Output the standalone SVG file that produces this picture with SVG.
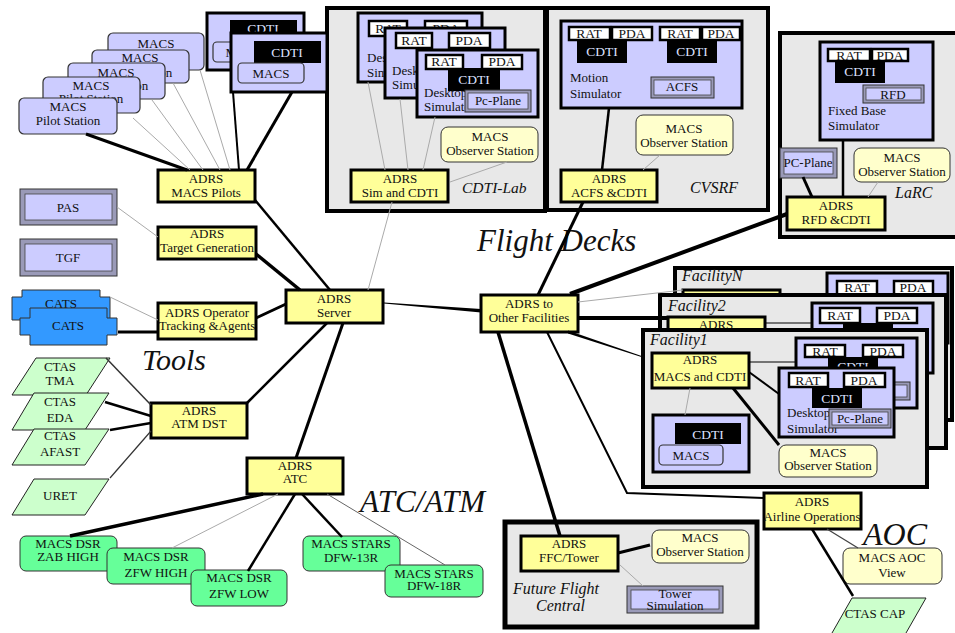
<svg xmlns="http://www.w3.org/2000/svg" width="955" height="633" viewBox="0 0 955 633">
<style>
text{font-family:"Liberation Serif","Times New Roman",serif;font-size:13px;fill:#111;text-anchor:middle}
.l{text-anchor:start}
.s{font-size:13.5px}
.it{font-style:italic;text-anchor:start}
.big{font-style:italic;text-anchor:start;font-size:31px}
.ct{fill:#dde0ff;font-size:13.5px}
.adrs{fill:#ffff99;stroke:#000;stroke-width:3}
.obs{fill:#ffffcc;stroke:#333;stroke-width:1}
.lav{fill:#ccccff;stroke:#000;stroke-width:3}
.lt{fill:#ccccff;stroke:#333;stroke-width:1.2}
.cont{fill:#e8e8e8;stroke:#000;stroke-width:4}
.blk{fill:#000}
.wb{fill:#fff;stroke:#000;stroke-width:2.5}
.dsr{fill:#66ff99;stroke:#333;stroke-width:1}
.ctas{fill:#ccffcc;stroke:#222;stroke-width:1}
.cats{fill:#3399ff;stroke:#333;stroke-width:1}
.bo{fill:#9a9ab8;stroke:#333;stroke-width:1}
.bi{fill:#ccccff;stroke:#444;stroke-width:0.8}
.k{stroke:#000;fill:none}
.g{stroke:#aaa;stroke-width:1;fill:none}
</style>

<!-- containers -->
<g id="cdti-lab">
<rect class="cont" x="327" y="8" width="218" height="203"/>
<text class="it" x="462" y="193" style="font-size:15.5px">CDTI-Lab</text>
</g>
<g id="cvsrf">
<rect class="cont" x="547" y="8" width="221" height="202"/>
<text class="it" x="690" y="193" style="font-size:16px">CVSRF</text>
</g>
<g id="larc">
<rect class="cont" x="780" y="33" width="185" height="204"/>
<text class="it" x="895" y="198" style="font-size:16px">LaRC</text>
</g>
<g id="facilityN">
<rect class="cont" x="675" y="268" width="277" height="152"/>
<text class="it" x="682" y="281" style="font-size:16px">FacilityN</text>
<rect class="adrs" x="683" y="290" width="97" height="30"/>
<rect class="lav" x="827" y="273" width="121" height="70"/>
<rect class="wb" x="837" y="281" width="40" height="14"/><text class="s" x="857" y="292">RAT</text>
<rect class="wb" x="894" y="281" width="39" height="14"/><text class="s" x="913" y="292">PDA</text>
</g>
<g id="facility2">
<rect class="cont" x="660" y="295" width="286" height="153"/>
<text class="it" x="668" y="311" style="font-size:16px">Facility2</text>
<rect class="adrs" x="668" y="317" width="97" height="33"/><text x="716" y="329">ADRS</text>
<rect class="lav" x="812" y="303" width="121" height="70"/>
<rect class="wb" x="820" y="308" width="40" height="15"/><text class="s" x="840" y="320">RAT</text>
<rect class="wb" x="877" y="308" width="40" height="15"/><text class="s" x="897" y="320">PDA</text>
<rect class="blk" x="843" y="323" width="50" height="18"/><text class="ct" x="868" y="337">CDTI</text>
<line class="k" x1="765" y1="323" x2="812" y2="323" stroke-width="1.2"/>
</g>
<g id="facility1">
<rect class="cont" x="643" y="330" width="284" height="157"/>
<text class="it" x="650" y="345" style="font-size:16px">Facility1</text>
</g>
<g id="ffc">
<rect class="cont" x="505" y="522" width="252" height="105" style="stroke-width:5"/>
<text class="it" x="513" y="594" style="font-size:16px">Future Flight</text>
<text class="it" x="536" y="611" style="font-size:16px">Central</text>
</g>

<!-- big labels -->
<g id="labels">
<text class="big" x="477" y="251">Flight Decks</text>
<text class="big" x="142" y="370" style="font-size:30px">Tools</text>
<text class="big" x="360" y="512">ATC/ATM</text>
<text class="big" x="863" y="545" style="font-size:32px">AOC</text>
</g>

<!-- pilot stations -->
<g id="pilot1"><rect class="lt" x="108" y="33" width="96" height="37" rx="5"/><text x="156" y="48">MACS</text><text x="156" y="62">Pilot Station</text></g>
<g id="pilot2"><rect class="lt" x="92" y="50" width="97" height="33" rx="5"/><text x="140" y="62">MACS</text><text x="140" y="77">Pilot Station</text></g>
<g id="pilot3"><rect class="lt" x="68" y="63" width="97" height="36" rx="5"/><text x="116" y="77">MACS</text><text x="116" y="90">Pilot Station</text></g>
<g id="pilot4"><rect class="lt" x="43" y="77" width="97" height="36" rx="5"/><text x="91" y="90">MACS</text><text x="91" y="103">Pilot Station</text></g>
<g id="pilot5"><rect class="lt" x="19" y="98" width="98" height="36" rx="5"/><text x="68" y="111">MACS</text><text x="68" y="125">Pilot Station</text></g>

<g id="cdti-macs1">
<rect class="lav" x="207" y="13" width="97" height="57"/>
<rect class="blk" x="230" y="20" width="67" height="17"/><text class="ct" x="263" y="33">CDTI</text>
<rect class="lt" x="213" y="42" width="62" height="20" rx="4"/><text x="244" y="57">MACS</text>
</g>
<g id="cdti-macs2">
<rect class="lav" x="231" y="33" width="96" height="59"/>
<rect class="blk" x="254" y="41" width="67" height="22"/><text class="ct" x="287" y="57">CDTI</text>
<rect class="lt" x="238" y="63" width="66" height="20" rx="4"/><text x="271" y="78">MACS</text>
</g>

<!-- CDTI-Lab content -->
<g id="desk1">
<rect class="lav" x="358" y="13" width="124" height="69"/>
<rect class="wb" x="369" y="21" width="38" height="15"/><text class="s" x="388" y="33">RAT</text>
<rect class="wb" x="425" y="21" width="42" height="15"/><text class="s" x="446" y="33">PDA</text>
<text class="l" x="367" y="62">Desktop</text><text class="l" x="367" y="77">Simulator</text>
</g>
<g id="desk2">
<rect class="lav" x="385" y="28" width="120" height="70"/>
<rect class="wb" x="396" y="33" width="36" height="15"/><text class="s" x="414" y="45">RAT</text>
<rect class="wb" x="449" y="33" width="41" height="15"/><text class="s" x="469" y="45">PDA</text>
<text class="l" x="392" y="75">Desktop</text><text class="l" x="392" y="89">Simulator</text>
</g>
<g id="desk3">
<rect class="lav" x="417" y="50" width="121" height="67"/>
<rect class="wb" x="426" y="55" width="37" height="14"/><text class="s" x="444" y="66">RAT</text>
<rect class="wb" x="482" y="55" width="40" height="14"/><text class="s" x="502" y="66">PDA</text>
<rect class="blk" x="448" y="68" width="52" height="23"/><text class="ct" x="474" y="84">CDTI</text>
<text class="l" x="424" y="97">Desktop</text><text class="l" x="424" y="111">Simulator</text>
<rect class="bo" x="465" y="90" width="66" height="22"/><rect class="bi" x="468" y="93" width="60" height="16"/><text x="498" y="105">Pc-Plane</text>
</g>
<g id="obs-lab"><rect class="obs" x="441" y="127" width="97" height="35" rx="7"/><text x="490" y="141">MACS</text><text x="490" y="155">Observer Station</text></g>
<g id="adrs-sim"><rect class="adrs" x="351" y="170" width="97" height="32"/><text x="400" y="183">ADRS</text><text x="400" y="197">Sim and CDTI</text></g>

<!-- CVSRF content -->
<g id="motion">
<rect class="lav" x="561" y="21" width="181" height="87"/>
<rect class="wb" x="569" y="27" width="41" height="13"/><text class="s" x="589" y="38">RAT</text>
<rect class="wb" x="612" y="27" width="40" height="13"/><text class="s" x="632" y="38">PDA</text>
<rect class="blk" x="577" y="40" width="50" height="23"/><text class="ct" x="602" y="56">CDTI</text>
<rect class="wb" x="660" y="27" width="40" height="13"/><text class="s" x="680" y="38">RAT</text>
<rect class="wb" x="702" y="27" width="38" height="13"/><text class="s" x="721" y="38">PDA</text>
<rect class="blk" x="667" y="40" width="50" height="23"/><text class="ct" x="692" y="56">CDTI</text>
<text class="l" x="570" y="82">Motion</text><text class="l" x="570" y="98">Simulator</text>
<rect class="bo" x="651" y="77" width="63" height="21"/><rect class="bi" x="654" y="80" width="57" height="15"/><text x="682" y="91">ACFS</text>
</g>
<g id="obs-cvsrf"><rect class="obs" x="636" y="115" width="97" height="40" rx="7"/><text x="684" y="133">MACS</text><text x="684" y="147">Observer Station</text></g>
<g id="adrs-acfs"><rect class="adrs" x="561" y="170" width="96" height="32"/><text x="609" y="183">ADRS</text><text x="609" y="197">ACFS &amp;CDTI</text></g>

<!-- LaRC content -->
<g id="fixedbase">
<rect class="lav" x="820" y="42" width="113" height="98"/>
<rect class="wb" x="828" y="49" width="42" height="12"/><text class="s" x="849" y="60">RAT</text>
<rect class="wb" x="872" y="49" width="36" height="12"/><text class="s" x="890" y="60">PDA</text>
<rect class="blk" x="835" y="60" width="50" height="23"/><text class="ct" x="860" y="76">CDTI</text>
<rect class="bo" x="863" y="85" width="61" height="18"/><rect class="bi" x="866" y="88" width="55" height="12"/><text x="893" y="99">RFD</text>
<text class="l" x="828" y="115">Fixed Base</text><text class="l" x="828" y="130">Simulator</text>
</g>
<g id="pcplane-larc"><rect class="bo" x="780" y="148" width="57" height="30"/><rect class="bi" x="784" y="152" width="49" height="22"/><text x="808" y="167">PC-Plane</text></g>
<g id="obs-larc"><rect class="obs" x="854" y="148" width="96" height="34" rx="7"/><text x="902" y="162">MACS</text><text x="902" y="176">Observer Station</text></g>
<g id="adrs-rfd"><rect class="adrs" x="787" y="197" width="98" height="33"/><text x="836" y="210">ADRS</text><text x="836" y="224">RFD &amp;CDTI</text></g>

<!-- tools -->
<g id="pas"><rect class="bo" x="20" y="189" width="97" height="36"/><rect class="bi" x="25" y="194" width="87" height="26"/><text x="68" y="212">PAS</text></g>
<g id="tgf"><rect class="bo" x="20" y="239" width="97" height="37"/><rect class="bi" x="25" y="244" width="87" height="27"/><text x="68" y="262">TGF</text></g>
<g id="cats1"><polygon class="cats" points="22,290 100,290 100,297 110,297 110,320 100,320 100,327 22,327 22,320 12,320 12,297 22,297"/><text x="61" y="308">CATS</text></g>
<g id="cats2"><polygon class="cats" points="30,308 107,308 107,318 117,318 117,335 107,335 107,345 30,345 30,335 20,335 20,318 30,318"/><text x="68" y="330">CATS</text></g>

<g id="adrs-pilots"><rect class="adrs" x="158" y="170" width="97" height="32"/><text x="206" y="183">ADRS</text><text x="206" y="197">MACS Pilots</text></g>
<g id="adrs-tg"><rect class="adrs" x="158" y="227" width="98" height="32"/><text x="207" y="238">ADRS</text><text x="207" y="252">Target Generation</text></g>
<g id="adrs-op"><rect class="adrs" x="158" y="303" width="98" height="36"/><text x="207" y="317">ADRS Operator</text><text x="207" y="330">Tracking &amp;Agents</text></g>
<g id="adrs-server"><rect class="adrs" x="286" y="290" width="97" height="33"/><text x="334" y="303">ADRS</text><text x="334" y="317">Server</text></g>
<g id="adrs-other"><rect class="adrs" x="481" y="295" width="97" height="37"/><text x="529" y="308">ADRS to</text><text x="529" y="322">Other Facilities</text></g>

<g id="ctas-tma"><polygon class="ctas" points="36,358 110,358 86,395 12,395"/><text x="60" y="371">CTAS</text><text x="60" y="385">TMA</text></g>
<g id="ctas-eda"><polygon class="ctas" points="34,393 109,393 85,430 12,430"/><text x="60" y="406">CTAS</text><text x="60" y="422">EDA</text></g>
<g id="ctas-afast"><polygon class="ctas" points="34,429 109,429 85,465 12,465"/><text x="60" y="440">CTAS</text><text x="60" y="456">AFAST</text></g>
<g id="uret"><polygon class="ctas" points="34,479 109,479 85,515 12,515"/><text x="60" y="500">URET</text></g>

<g id="adrs-atm"><rect class="adrs" x="151" y="403" width="96" height="35"/><text x="199" y="415">ADRS</text><text x="199" y="428">ATM DST</text></g>
<g id="adrs-atc"><rect class="adrs" x="247" y="458" width="96" height="36"/><text x="295" y="470">ADRS</text><text x="295" y="483">ATC</text></g>

<g id="dsr-zab"><rect class="dsr" x="20" y="536" width="97" height="35" rx="6"/><text x="68" y="548">MACS DSR</text><text x="68" y="561">ZAB HIGH</text></g>
<g id="dsr-zfwh"><rect class="dsr" x="107" y="548" width="98" height="36" rx="6"/><text x="156" y="561">MACS DSR</text><text x="156" y="577">ZFW HIGH</text></g>
<g id="dsr-zfwl"><rect class="dsr" x="191" y="570" width="96" height="36" rx="6"/><text x="239" y="582">MACS DSR</text><text x="239" y="598">ZFW LOW</text></g>
<g id="stars13"><rect class="dsr" x="303" y="536" width="97" height="35" rx="6"/><text x="351" y="548">MACS STARS</text><text x="351" y="562">DFW-13R</text></g>
<g id="stars18"><rect class="dsr" x="385" y="565" width="98" height="32" rx="6"/><text x="434" y="578">MACS STARS</text><text x="434" y="590">DFW-18R</text></g>

<!-- Facility1 content -->
<g id="f1-adrs"><rect class="adrs" x="652" y="353" width="97" height="35"/><text x="700" y="364">ADRS</text><text x="700" y="381">MACS and CDTI</text></g>
<g id="f1-desk-back">
<rect class="lav" x="796" y="338" width="121" height="70"/>
<rect class="wb" x="805" y="345" width="40" height="12"/><text class="s" x="825" y="356">RAT</text>
<rect class="wb" x="863" y="345" width="40" height="12"/><text class="s" x="883" y="356">PDA</text>
<rect class="blk" x="828" y="357" width="50" height="20"/><text class="ct" x="853" y="371">CDTI</text>
<rect class="bo" x="870" y="382" width="40" height="18"/><rect class="bi" x="873" y="385" width="34" height="12"/>
</g>
<g id="f1-desk-front">
<rect class="lav" x="779" y="368" width="115" height="69"/>
<rect class="wb" x="789" y="373" width="39" height="14"/><text class="s" x="808" y="385">RAT</text>
<rect class="wb" x="844" y="373" width="41" height="14"/><text class="s" x="864" y="385">PDA</text>
<rect class="blk" x="812" y="388" width="50" height="20"/><text class="ct" x="837" y="403">CDTI</text>
<text class="l" x="787" y="417">Desktop</text><text class="l" x="787" y="433">Simulator</text>
<rect class="bo" x="829" y="409" width="62" height="19"/><rect class="bi" x="832" y="412" width="56" height="13"/><text x="860" y="423">Pc-Plane</text>
</g>
<g id="f1-cdti-macs">
<rect class="lav" x="653" y="415" width="96" height="57"/>
<rect class="blk" x="675" y="423" width="66" height="21"/><text class="ct" x="708" y="439">CDTI</text>
<rect class="lt" x="659" y="445" width="64" height="20" rx="4"/><text x="691" y="460">MACS</text>
</g>
<g id="f1-obs"><rect class="obs" x="779" y="445" width="98" height="32" rx="7"/><text x="828" y="457">MACS</text><text x="828" y="470">Observer Station</text></g>

<!-- FFC / AOC -->
<g id="adrs-ffc"><rect class="adrs" x="521" y="536" width="97" height="35"/><text x="569" y="548">ADRS</text><text x="569" y="562">FFC/Tower</text></g>
<g id="obs-ffc"><rect class="obs" x="652" y="530" width="97" height="33" rx="7"/><text x="700" y="542">MACS</text><text x="700" y="556">Observer Station</text></g>
<g id="tower-sim"><rect class="bo" x="627" y="586" width="96" height="27"/><rect class="bi" x="631" y="590" width="88" height="19"/><text x="675" y="598">Tower</text><text x="675" y="610">Simulation</text></g>
<g id="adrs-aoc"><rect class="adrs" x="764" y="493" width="97" height="36"/><text x="812" y="506">ADRS</text><text x="812" y="521">Airline Operations</text></g>
<g id="aoc-view"><rect class="obs" x="843" y="548" width="99" height="36" rx="7"/><text x="892" y="562">MACS AOC</text><text x="892" y="577">View</text></g>
<g id="ctas-cap"><polygon class="ctas" points="852,598 926,598 902,640 828,640"/><text x="875" y="618">CTAS CAP</text></g>

<!-- connectors -->
<g id="connectors">
<line class="k" x1="86" y1="134" x2="187" y2="170" stroke-width="3"/>
<line class="g" x1="133" y1="118" x2="190" y2="170"/>
<line class="g" x1="152" y1="100" x2="203" y2="170"/>
<line class="g" x1="173" y1="83" x2="220" y2="170"/>
<line class="g" x1="200" y1="70" x2="230" y2="170"/>
<line class="k" x1="233" y1="92" x2="239" y2="170" stroke-width="2"/>
<line class="k" x1="292" y1="92" x2="247" y2="170" stroke-width="3"/>
<line class="k" x1="255" y1="200" x2="330" y2="290" stroke-width="2.5"/>
<line class="k" x1="256" y1="254" x2="300" y2="290" stroke-width="3.5"/>
<line class="k" x1="256" y1="318" x2="286" y2="304" stroke-width="3"/>
<line class="g" x1="117" y1="207" x2="158" y2="237"/>
<line class="g" x1="110" y1="297" x2="158" y2="320"/>
<line class="k" x1="118" y1="332" x2="158" y2="332" stroke-width="3"/>
<line class="k" x1="327" y1="323" x2="247" y2="403" stroke-width="2.5"/>
<line class="k" x1="343" y1="323" x2="296" y2="458" stroke-width="3"/>
<line class="g" x1="368" y1="290" x2="392" y2="202"/>
<polygon points="384,302.5 481,309 481,312.5 384,303.5" fill="#000"/>
<line class="k" x1="538" y1="295" x2="583" y2="202" stroke-width="3"/>
<line class="k" x1="570" y1="294" x2="787" y2="214" stroke-width="4"/>
<line class="g" x1="578" y1="302" x2="683" y2="290"/>
<line class="k" x1="578" y1="318" x2="668" y2="318" stroke-width="4"/>
<polygon points="568,330.5 643,356.5 643,357.5 568,333.5" fill="#000"/>
<line class="k" x1="498" y1="332" x2="560" y2="536" stroke-width="3.5"/>
<polyline class="k" points="547,332 627,493 764,498" stroke-width="2"/>
<line class="k" x1="618" y1="553" x2="650" y2="545" stroke-width="3"/>
<line class="g" x1="620" y1="565" x2="643" y2="586"/>
<line class="k" x1="812" y1="529" x2="853" y2="596" stroke-width="2.5"/>
<line x1="827" y1="529" x2="858" y2="548" stroke="#444" stroke-width="1.3"/>
<line class="k" x1="609" y1="108" x2="602" y2="170" stroke-width="2.5"/>
<line class="g" x1="660" y1="155" x2="643" y2="170"/>
<line class="k" x1="843" y1="140" x2="843" y2="197" stroke-width="2.5"/>
<line class="k" x1="803" y1="177" x2="812" y2="197" stroke-width="3"/>
<line class="g" x1="878" y1="182" x2="868" y2="197"/>
<line class="g" x1="368" y1="82" x2="385" y2="170"/>
<line class="g" x1="400" y1="99" x2="408" y2="170"/>
<line class="g" x1="435" y1="117" x2="423" y2="170"/>
<line class="g" x1="507" y1="162" x2="450" y2="182"/>
<line class="k" x1="749" y1="362" x2="796" y2="362" stroke-width="1.2"/>
<line class="k" x1="749" y1="372" x2="779" y2="394" stroke-width="2"/>
<line class="k" x1="733" y1="388" x2="779" y2="445" stroke-width="3"/>
<line class="g" x1="690" y1="388" x2="685" y2="415"/>
<line x1="106" y1="358" x2="151" y2="405" stroke="#333" stroke-width="1.5"/>
<line class="k" x1="105" y1="402" x2="151" y2="416" stroke-width="2.5"/>
<line class="k" x1="110" y1="430" x2="151" y2="423" stroke-width="2.5"/>
<line x1="110" y1="478" x2="151" y2="431" stroke="#333" stroke-width="1.2"/>
<line class="k" x1="263" y1="494" x2="70" y2="536" stroke-width="3.5"/>
<line class="g" x1="278" y1="494" x2="172" y2="548"/>
<line class="k" x1="295" y1="494" x2="248" y2="571" stroke-width="2.5"/>
<line class="k" x1="302" y1="494" x2="342" y2="537" stroke-width="2.5"/>
<line x1="327" y1="494" x2="445" y2="565" stroke="#666" stroke-width="1"/>
</g>
</svg>
